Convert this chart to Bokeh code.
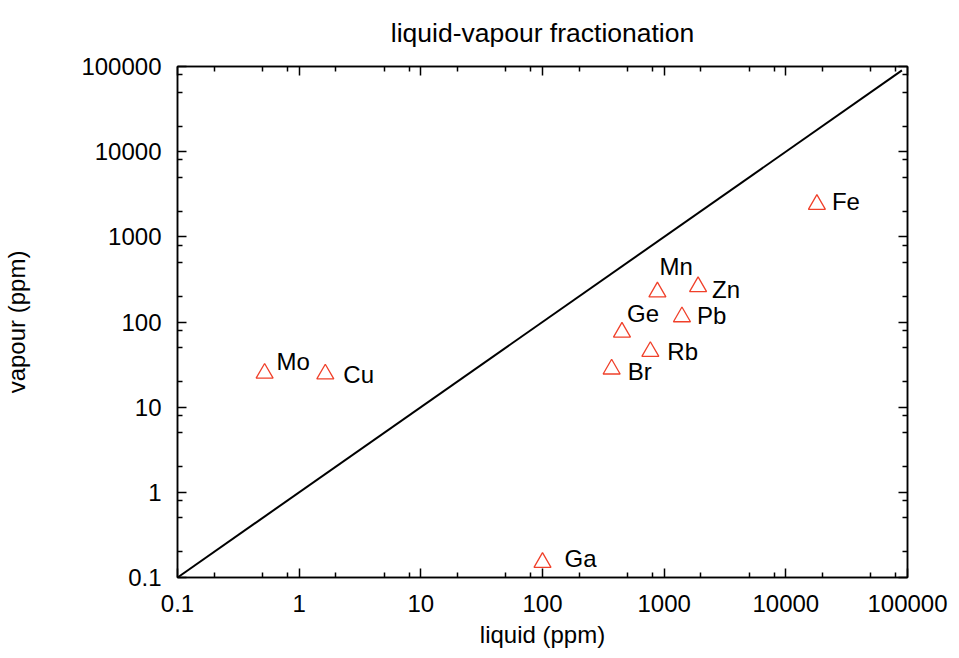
from bokeh.plotting import figure
from bokeh.models import LogAxis, FixedTicker, CustomJSTickFormatter, ColumnDataSource, Range1d
from bokeh.core.properties import value
from bokeh.embed import file_html
from bokeh.resources import INLINE

# ---- data ----
elements = ["Mo", "Cu", "Ga", "Br", "Ge", "Rb", "Mn", "Pb", "Zn", "Fe"]
liquid = [0.52, 1.64, 100, 370, 450, 770, 880, 1400, 1900, 18000]
vapour = [25, 24.5, 0.15, 28, 76, 45, 225, 115, 260, 2400]
label_dx = [12, 18, 22, 16, 5, 17, 2, 15, 14, 15]
label_dy = [-12, 0, -4, 2, -19, 0, -26, -1, 3, -3]

line_x = [0.1, 90000]
line_y = [0.1, 90000]

tick_values = [0.1, 1, 10, 100, 1000, 10000, 100000]
tick_labels = ["0.1", "1", "10", "100", "1000", "10000", "100000"]
minor_values = [m * d for d in [0.1, 1, 10, 100, 1000, 10000] for m in (2, 5, 8)]

FONT = "Liberation Sans"

p = figure(frame_width=730, frame_height=511, x_axis_type="log", y_axis_type="log",
           x_range=Range1d(0.1, 100000), y_range=Range1d(0.1, 100000),
           output_backend="svg", toolbar_location=None,
           min_border_left=170, min_border_right=43,
           min_border_top=59, min_border_bottom=70)

p.title.text = "liquid-vapour fractionation"
p.title.align = "center"
p.title.vertical_align = "top"
p.title.text_font = FONT
p.title.text_font_size = "26.5px"
p.title.text_font_style = "normal"
p.title.text_color = "black"
p.title.standoff = 34

p.xgrid.visible = False
p.ygrid.visible = False
p.outline_line_color = "black"
p.outline_line_width = 1.5
p.background_fill_color = "white"
p.border_fill_color = "white"

overrides = {v: s for v, s in zip(tick_values, tick_labels)}


def style_axis(ax, labels=True):
    ax.ticker = FixedTicker(ticks=tick_values, minor_ticks=minor_values)
    ax.major_tick_in = 9
    ax.major_tick_out = 0
    ax.minor_tick_in = 5
    ax.minor_tick_out = 0
    ax.major_tick_line_color = "black"
    ax.minor_tick_line_color = "black"
    ax.major_tick_line_width = 1.5
    ax.minor_tick_line_width = 1.5
    ax.axis_line_color = "black"
    ax.axis_line_width = 1.5
    ax.major_label_text_font = FONT
    ax.major_label_text_font_size = "24px"
    ax.major_label_text_color = "black"
    ax.axis_label_text_font = FONT
    ax.axis_label_text_font_size = "24px"
    ax.axis_label_text_font_style = "normal"
    ax.axis_label_text_color = "black"
    if labels:
        ax.major_label_overrides = overrides
        ax.major_label_standoff = 16
    else:
        ax.formatter = CustomJSTickFormatter(code="return ''")
        ax.major_label_standoff = 0


style_axis(p.xaxis[0])
style_axis(p.yaxis[0])
p.xaxis[0].axis_label = "liquid (ppm)"
p.xaxis[0].major_label_standoff = 17
p.xaxis[0].axis_label_standoff = 6
p.yaxis[0].axis_label = "vapour (ppm)"
p.yaxis[0].axis_label_standoff = 48

top_ax = LogAxis()
right_ax = LogAxis()
style_axis(top_ax, labels=False)
style_axis(right_ax, labels=False)
p.add_layout(top_ax, "above")
p.add_layout(right_ax, "right")

# diagonal
p.line(line_x, line_y, line_color="black", line_width=2)

src = ColumnDataSource(dict(x=liquid, y=vapour, t=elements, dx=label_dx, dy=label_dy))
p.scatter("x", "y", source=src, marker="triangle", size=17,
          fill_color=None, line_color="#f0402a", line_width=1.3)
p.text("x", "y", text="t", source=src, x_offset="dx", y_offset="dy",
       text_align="left", text_baseline="middle",
       text_font=value(FONT), text_font_size="24px", text_color="black")

open("out.html", "w").write(file_html(p, INLINE))
